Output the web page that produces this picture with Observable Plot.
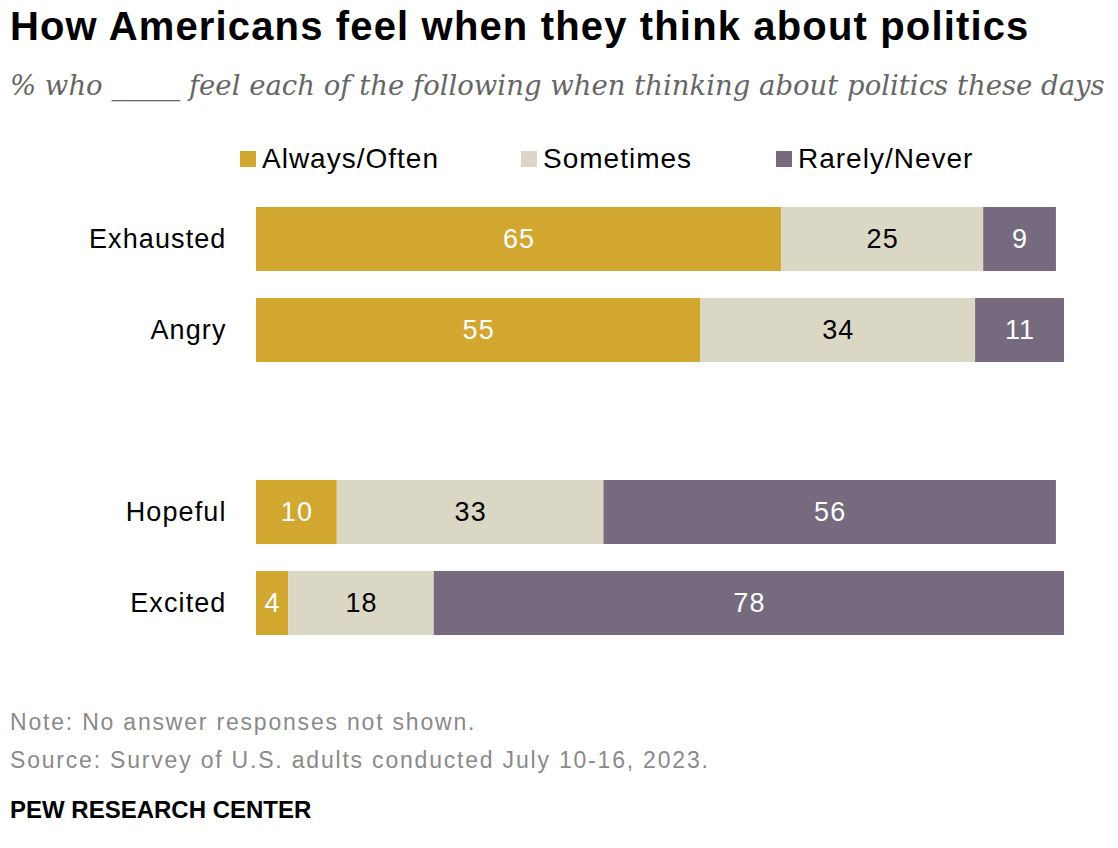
<!DOCTYPE html>
<html>
<head>
<meta charset="utf-8">
<script src="https://cdn.jsdelivr.net/npm/d3@7"></script>
<script src="https://cdn.jsdelivr.net/npm/@observablehq/plot@0.6"></script>
<style>
  html, body { margin: 0; padding: 0; background: #fff; }
  body { width: 1118px; height: 848px; position: relative; overflow: hidden; font-family: "Liberation Sans", Arial, sans-serif; }
  .abs { position: absolute; white-space: nowrap; line-height: 1; }
  #title { left: 10px; top: 6px; font-family: "Liberation Sans", sans-serif; font-weight: bold; font-size: 40px; letter-spacing: 1.15px; color: #000; }
  #subtitle { left: 10px; top: 72px; font-family: "DejaVu Serif", serif; font-style: italic; font-size: 27.5px; color: #666; }
  #legend { left: 0; top: 145px; width: 1118px; height: 28px; }
  .li { position: absolute; top: 0; font-size: 28px; letter-spacing: 1px; color: #000; line-height: 28px; }
  .sw { display: inline-block; width: 16px; height: 16px; margin-right: 6px; vertical-align: 1px; }
  #chart { position: absolute; left: 0; top: 180px; }
  .foot { left: 10px; font-size: 23px; letter-spacing: 1.8px; color: #8a8a8a; }
  #pew { left: 10px; top: 798px; font-family: "Liberation Sans", sans-serif; font-weight: bold; font-size: 24px; color: #000; }
</style>
</head>
<body>
<div id="title" class="abs">How Americans feel when they think about politics</div>
<div id="subtitle" class="abs">% who _____ feel each of the following when thinking about politics these days</div>
<div id="legend" class="abs"></div>
<div id="chart"></div>
<div id="note" class="abs foot" style="top:711px">Note: No answer responses not shown.</div>
<div id="source" class="abs foot" style="top:749px">Source: Survey of U.S. adults conducted July 10-16, 2023.</div>
<div id="pew" class="abs">PEW RESEARCH CENTER</div>
<script>
// ---- data ----
const categories = ["Exhausted", "Angry", "Hopeful", "Excited"];
const responses = ["Always/Often", "Sometimes", "Rarely/Never"];
const alwaysOften = [65, 55, 10, 4];
const sometimes = [25, 34, 33, 18];
const rarelyNever = [9, 11, 56, 78];
const colors = ["#D1A730", "#DAD7C5", "#756A7E"];
const labelColors = ["#ffffff", "#000000", "#ffffff"];
const yDomain = ["Exhausted", "Angry", " ", "Hopeful", "Excited"];

const series = [alwaysOften, sometimes, rarelyNever];
const rows = [];
categories.forEach((c, i) => {
  responses.forEach((r, j) => {
    rows.push({category: c, response: r, value: series[j][i]});
  });
});

// ---- legend ----
const legendLeft = [240, 521, 776];
const legend = document.getElementById("legend");
responses.forEach((r, j) => {
  const item = document.createElement("div");
  item.className = "li";
  item.style.left = legendLeft[j] + "px";
  item.innerHTML = `<span class="sw" style="background:${colors[j]}"></span>${r}`;
  legend.appendChild(item);
});

// ---- chart ----
const chart = Plot.plot({
  width: 1118,
  height: 490,
  marginLeft: 256,
  marginRight: 54,
  marginTop: 12,
  marginBottom: 20,
  style: {fontFamily: "'Liberation Sans', Arial, sans-serif", fontSize: "27px", letterSpacing: "1.1px", color: "#000", background: "transparent"},
  x: {domain: [0, 100], axis: null},
  y: {domain: yDomain, padding: 0.3, paddingOuter: 0.15, label: null},
  color: {domain: responses, range: colors},
  marks: [
    Plot.axisY({tickSize: 0, tickPadding: 30, fontSize: 27, label: null}),
    Plot.barX(rows, Plot.stackX({x: "value", y: "category", fill: "response", order: responses})),
    ...responses.map((r, j) =>
      Plot.text(rows, Plot.stackX({
        x: "value", y: "category", z: "response", order: responses,
        text: d => d.response === r ? String(d.value) : "",
        fill: labelColors[j], fontSize: 27
      }))
    )
  ]
});
document.getElementById("chart").appendChild(chart);
</script>
</body>
</html>
